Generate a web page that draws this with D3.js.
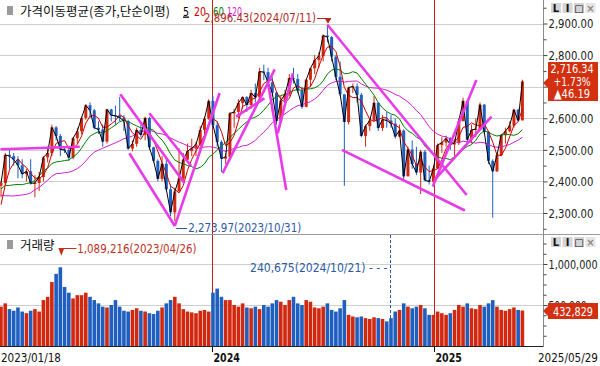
<!DOCTYPE html>
<html>
<head>
<meta charset="utf-8">
<script src="https://cdn.jsdelivr.net/npm/d3@7"></script>
<style>
  body { margin: 0; background: #fff; }
  svg { display: block; }
  .num { font-family: "DejaVu Sans Condensed", "Liberation Sans", sans-serif; }
  .kr { font-family: "Noto Sans CJK KR", "Noto Sans", sans-serif; }
</style>
</head>
<body>
<script>
// weekly summary of the daily chart, week ends on friday
var firstWeekEnd = "2023-01-20",
    lastDay = "2025-05-29";

// closes before the first week, only used to warm up the moving averages
var preCloses = [2527,2492,2481,2409,2384,2382,2290,2155,2232,2212,2213,2268,2348,2483,2444,2437,2434,2389,2360,2313,2236,2289,2386];

var closes = [
  2395,2484,2480,2469,2451,2423,2432,2394,2395,2414,2476,2490,2571,2544,2501,2500,2475,2537,2559,2601,
  2641,2625,2570,2564,2526,2628,2609,2608,2602,2591,2504,2519,2563,2547,2601,2508,2465,2408,2456,2375,
  2302,2368,2409,2469,2496,2505,2517,2563,2599,2655,2578,2525,2472,2478,2615,2620,2648,2667,2642,2680,
  2666,2748,2746,2714,2681,2591,2656,2676,2727,2724,2687,2636,2722,2758,2784,2797,2862,2857,2795,2731,
  2676,2588,2697,2701,2674,2544,2575,2593,2649,2569,2596,2593,2583,2542,2561,2416,2501,2455,2428,2494,
  2404,2399,2441,2515,2523,2536,2517,2521,2591,2655,2532,2563,2566,2643,2557,2465,2432,2483,2546,2559,
  2577,2627,2593,2716.34];

var highs = [
  2400,2490,2500,2490,2480,2470,2440,2470,2420,2430,2480,2510,2580,2575,2550,2510,2510,2540,2570,2605,
  2645,2650,2630,2590,2580,2630,2630,2640,2668,2610,2595,2530,2570,2580,2605,2605,2510,2470,2480,2470,
  2390,2380,2505,2490,2520,2535,2525,2575,2605,2660,2670,2590,2530,2490,2620,2630,2660,2670,2670,2690,
  2710,2760,2770,2760,2730,2685,2670,2690,2740,2760,2740,2700,2725,2760,2800,2810,2865,2896.43,2860,2800,
  2780,2600,2700,2710,2710,2680,2580,2600,2670,2650,2610,2620,2610,2600,2580,2565,2510,2530,2510,2500,
  2500,2450,2450,2520,2540,2545,2540,2535,2600,2665,2650,2580,2600,2650,2645,2560,2470,2490,2550,2570,
  2590,2630,2630,2722];

var lows = [
  2350,2390,2440,2450,2410,2410,2400,2390,2350,2370,2400,2460,2480,2530,2480,2490,2465,2470,2520,2550,
  2595,2600,2565,2550,2510,2520,2590,2580,2590,2560,2500,2495,2510,2540,2530,2500,2460,2400,2400,2370,
  2290,2273.97,2400,2400,2465,2480,2480,2510,2540,2595,2570,2510,2430,2455,2470,2570,2600,2630,2620,2630,
  2650,2650,2720,2700,2670,2580,2590,2640,2670,2710,2680,2630,2635,2700,2740,2760,2780,2840,2780,2720,
  2670,2386,2580,2680,2650,2540,2510,2560,2590,2560,2560,2570,2570,2535,2540,2400,2420,2440,2420,2360,
  2400,2390,2390,2440,2490,2510,2500,2480,2515,2590,2520,2520,2540,2565,2550,2455,2285,2430,2480,2520,
  2555,2570,2590,2630];

// thousand shares, average daily volume of the week
var volumes = [
  480,520,450,430,470,420,400,430,450,420,560,600,780,880,960,720,650,580,620,620,
  650,600,560,520,480,470,500,560,480,430,420,440,460,430,420,400,390,430,470,520,
  560,600,520,450,420,410,400,430,440,420,650,700,600,560,560,500,480,520,470,460,
  480,450,500,480,520,560,540,500,560,600,520,500,560,540,470,460,480,520,440,420,
  460,560,380,360,350,360,340,330,350,340,330,300,340,420,440,520,480,460,480,500,
  460,380,380,420,400,380,400,440,500,480,520,460,450,500,480,520,560,480,440,430,
  450,470,440,432.829];

var maPeriods = [5, 20, 60, 120],
    maWeeks = [1, 4, 12, 24],
    maColors = ["#000000", "#c80000", "#008000", "#d21ed2"];

var priceTicks = [2300, 2400, 2500, 2600, 2700, 2800, 2900],
    volumeTicks = [500000, 1000000],
    yearTicks = ["2024-01-02", "2025-01-02"],
    yearLabels = ["2024", "2025"];

var lastPrice = 2716.34, lastChange = 46.19, lastChangePct = 1.73, lastVolume = 432829;

var highMark = {date: "2024-07-11", value: 2896.43},
    lowMark = {date: "2023-10-31", value: 2273.97},
    volHighMark = {date: "2023-04-26", value: 1089216},
    volLowMark = {date: "2024-10-21", value: 240675};

// user drawn trend lines, [date, price] pairs
var trendLines = [
  [["2023-01-17", 2502], ["2023-05-28", 2510]],
  [["2023-08-03", 2676], ["2023-11-17", 2394]],
  [["2023-08-18", 2489], ["2023-11-01", 2259]],
  [["2023-11-01", 2259], ["2024-01-14", 2680]],
  [["2023-09-20", 2616], ["2023-11-28", 2449]],
  [["2024-01-19", 2426], ["2024-04-14", 2755]],
  [["2024-02-10", 2605], ["2024-03-28", 2663]],
  [["2024-04-03", 2711], ["2024-05-03", 2373]],
  [["2024-04-19", 2553], ["2024-05-14", 2742]],
  [["2024-07-10", 2896], ["2025-02-25", 2357]],
  [["2024-08-03", 2500], ["2025-02-22", 2308]],
  [["2024-12-31", 2384], ["2025-03-13", 2721]],
  [["2025-01-03", 2405], ["2025-04-07", 2605]]
];

var parse = d3.timeParse("%Y-%m-%d");
var fridays = d3.timeFriday.range(parse(firstWeekEnd), d3.timeDay.offset(parse(lastDay), 2));
var allCloses = preCloses.concat(closes);

var weeks = fridays.map(function(f, i) {
  return {
    date: d3.timeDay.offset(f, -2),
    open: allCloses[preCloses.length + i - 1],
    close: closes[i], high: highs[i], low: lows[i],
    volume: volumes[i] * 1000
  };
});

var width = 600, height = 366, axisX = 543;

var svg = d3.select("body").append("svg")
    .attr("width", width)
    .attr("height", height);

var x = d3.scaleTime()
    .domain([parse("2023-01-18"), parse(lastDay)])
    .range([1, 523]);

var y = d3.scaleLinear()
    .domain([2300, 2900])
    .range([213, 23.5]);

var yv = d3.scaleLinear()
    .domain([0, 1000000])
    .range([346, 264]);

// the chart font is a tall narrow one, squeeze the text to its width
function squeeze(sel, perChar) {
  sel.each(function() {
    d3.select(this)
      .attr("textLength", this.textContent.length * perChar)
      .attr("lengthAdjust", "spacingAndGlyphs");
  });
  return sel;
}

var defs = svg.append("defs");
defs.append("clipPath").attr("id", "clipPrice")
  .append("rect").attr("x", 0).attr("y", 20).attr("width", axisX).attr("height", 213);
defs.append("clipPath").attr("id", "clipVol")
  .append("rect").attr("x", 0).attr("y", 235).attr("width", axisX).attr("height", 111);

// grids
svg.append("g").selectAll("line")
  .data(priceTicks)
  .enter().append("line")
    .attr("x1", 0).attr("x2", axisX)
    .attr("y1", function(d) { return Math.round(y(d)) + 0.5; })
    .attr("y2", function(d) { return Math.round(y(d)) + 0.5; })
    .attr("stroke", "#cfcfcf");

svg.append("g").selectAll("line")
  .data(volumeTicks)
  .enter().append("line")
    .attr("x1", 0).attr("x2", axisX)
    .attr("y1", function(d) { return Math.round(yv(d)) + 0.5; })
    .attr("y2", function(d) { return Math.round(yv(d)) + 0.5; })
    .attr("stroke", "#cfcfcf");

// year separators
svg.append("g").selectAll("line")
  .data(yearTicks)
  .enter().append("line")
    .attr("x1", function(d) { return Math.round(x(parse(d))) + 0.5; })
    .attr("x2", function(d) { return Math.round(x(parse(d))) + 0.5; })
    .attr("y1", 0).attr("y2", 347)
    .attr("stroke", "#c81e1e");

// candles
var up = "#d2280f", down = "#1f5fc0";
var candles = svg.append("g").attr("clip-path", "url(#clipPrice)")
  .selectAll("g")
  .data(weeks)
  .enter().append("g")
    .attr("fill", function(d) { return d.close >= d.open ? up : down; })
    .attr("stroke", function(d) { return d.close >= d.open ? up : down; });

candles.append("line")
    .attr("x1", function(d) { return x(d.date); })
    .attr("x2", function(d) { return x(d.date); })
    .attr("y1", function(d) { return y(d.high); })
    .attr("y2", function(d) { return y(d.low); })
    .attr("stroke-width", 1);

candles.append("rect")
    .attr("x", function(d) { return x(d.date) - 1.5; })
    .attr("width", 3)
    .attr("y", function(d) { return y(Math.max(d.open, d.close)); })
    .attr("height", function(d) { return Math.max(1, Math.abs(y(d.open) - y(d.close))); })
    .attr("stroke", "none");

// moving averages
function movingAverage(n) {
  return weeks.map(function(d, i) {
    var end = preCloses.length + i + 1;
    return {date: d.date, value: d3.mean(allCloses.slice(end - n, end))};
  });
}

var line = d3.line()
    .x(function(d) { return x(d.date); })
    .y(function(d) { return y(d.value); });

var maGroup = svg.append("g").attr("clip-path", "url(#clipPrice)").attr("fill", "none");
for (var k = maWeeks.length - 1; k >= 0; k--) {
  maGroup.append("path")
      .datum(movingAverage(maWeeks[k]))
      .attr("stroke", maColors[k])
      .attr("stroke-width", 1)
      .attr("d", line);
}

// trend lines
svg.append("g").attr("clip-path", "url(#clipPrice)")
  .selectAll("path")
  .data(trendLines)
  .enter().append("path")
    .attr("fill", "none")
    .attr("stroke", "#e83ae8")
    .attr("stroke-width", 2.6)
    .attr("d", d3.line()
      .x(function(d) { return x(parse(d[0])); })
      .y(function(d) { return y(d[1]); }));

// volume bars
svg.append("g").attr("clip-path", "url(#clipVol)")
  .selectAll("rect")
  .data(weeks)
  .enter().append("rect")
    .attr("x", function(d) { return x(d.date) - 1.8; })
    .attr("width", 3.6)
    .attr("y", function(d) { return yv(d.volume); })
    .attr("height", function(d) { return yv(0) - yv(d.volume); })
    .attr("fill", function(d) { return d.close >= d.open ? up : down; });

// frame
svg.append("line").attr("x1", 0).attr("x2", width).attr("y1", 234.5).attr("y2", 234.5).attr("stroke", "#9a9a9a");
svg.append("line").attr("x1", 0).attr("x2", axisX).attr("y1", 346.5).attr("y2", 346.5).attr("stroke", "#222");
svg.append("line").attr("x1", axisX + 0.5).attr("x2", axisX + 0.5).attr("y1", 0).attr("y2", 347).attr("stroke", "#8a8a8a");

// right axes
var fmtPrice = d3.format(",.2f"), fmtInt = d3.format(",");

function rightAxis(scale, major, minor, fmt, perChar) {
  var g = svg.append("g").attr("transform", "translate(" + (axisX + 0.5) + ",0)");
  g.append("g").call(d3.axisRight(scale).tickValues(minor).tickSize(3).tickFormat(""));
  g.append("g").call(d3.axisRight(scale).tickValues(major).tickSize(4).tickPadding(1).tickFormat(fmt));
  g.selectAll(".domain").remove();
  g.selectAll("line").attr("stroke", "#444");
  squeeze(g.selectAll("text").attr("class", "num").attr("font-size", 13).attr("fill", "#222"), perChar);
  return g;
}

rightAxis(y, priceTicks, d3.range(2250, 2960, 50).filter(function(d) { return d % 100; }), fmtPrice, 5.6);
rightAxis(yv, volumeTicks, d3.range(125000, 1300000, 125000).filter(function(d) { return d % 500000; }), fmtInt, 5.45);

// last price tag
svg.append("path")
    .attr("d", "M543,83 L548,78 L548,62 L598,62 L598,101 L548,101 L548,88 Z")
    .attr("fill", "#d2300f");
var tag = svg.append("g").attr("class", "num").attr("fill", "#fff").attr("font-size", 13).attr("text-anchor", "middle");
squeeze(tag.append("text").attr("x", 572).attr("y", 73).text(fmtPrice(lastPrice)), 5.4);
squeeze(tag.append("text").attr("x", 572).attr("y", 85.5).text("+" + lastChangePct.toFixed(2) + "%"), 6.2);
squeeze(tag.append("text").attr("x", 572).attr("y", 98).text("\u25B2" + lastChange.toFixed(2)), 6);

svg.append("path")
    .attr("d", "M543,311 L548,306 L548,303 L598,303 L598,319 L548,319 L548,316 Z")
    .attr("fill", "#d2300f");
squeeze(svg.append("text").attr("class", "num").attr("x", 573).attr("y", 315.5)
    .attr("fill", "#fff").attr("font-size", 13).attr("text-anchor", "middle")
    .text(fmtInt(lastVolume)), 5.7);

// panel buttons
function buttons(top) {
  var labels = ["L", "I", "\u25A1", "\u00D7"];
  var g = svg.append("g");
  labels.forEach(function(t, i) {
    var bx = 551 + i * 11.5;
    g.append("rect").attr("x", bx).attr("y", top).attr("width", 10).attr("height", 10).attr("fill", i < 3 ? "#d4d4d4" : "#e6e6e6");
    g.append("text").attr("x", bx + 5).attr("y", top + 9).attr("text-anchor", "middle")
        .attr("font-family", "DejaVu Sans, sans-serif").attr("font-weight", "bold")
        .attr("font-size", 10).attr("fill", i < 3 ? "#111" : "#888").text(t);
  });
}
buttons(3);
buttons(237);

// titles
svg.append("rect").attr("x", 7).attr("y", 6).attr("width", 6).attr("height", 9).attr("fill", "#9a9a9a");
svg.append("text").attr("class", "kr").attr("x", 20).attr("y", 15.5).attr("font-size", 12.5).attr("fill", "#111")
    .text("가격이동평균(종가,단순이평)");
var legendX = [183, 194, 213, 227], legendW = [6, 12, 11, 15];
maPeriods.forEach(function(p, i) {
  var t = svg.append("text").attr("class", "num").attr("x", legendX[i]).attr("y", 15.5)
      .attr("font-size", 13).attr("fill", maColors[i])
      .attr("textLength", legendW[i]).attr("lengthAdjust", "spacingAndGlyphs")
      .text(p);
  if (i === 0) t.attr("text-decoration", "underline");
});

svg.append("rect").attr("x", 7).attr("y", 240).attr("width", 6).attr("height", 9).attr("fill", "#9a9a9a");
svg.append("text").attr("class", "kr").attr("x", 20).attr("y", 250).attr("font-size", 12.5).attr("fill", "#111")
    .text("거래량");

// high / low marks
var hx = x(parse(highMark.date)), hy = y(highMark.value);
squeeze(svg.append("text").attr("class", "num").attr("x", hx - 12).attr("y", 22).attr("text-anchor", "end")
    .attr("font-size", 13).attr("fill", "#b4281e")
    .text(fmtPrice(highMark.value) + "(" + highMark.date.replace(/-/g, "/") + ")"), 5.6);
svg.append("path").attr("d", "M" + (hx - 11) + ",18.5 H" + (hx + 3)).attr("stroke", "#b4281e").attr("fill", "none");
svg.append("path").attr("d", "M" + (hx - 3) + "," + (hy - 6) + " L" + (hx + 3) + "," + (hy - 6) + " L" + hx + "," + (hy - 1) + " Z")
    .attr("fill", "#b4281e");

var lx = x(parse(lowMark.date));
svg.append("path").attr("d", "M" + (lx + 2) + ",228.5 H" + (lx + 13)).attr("stroke", "#2a5aa8").attr("fill", "none");
squeeze(svg.append("text").attr("class", "num").attr("x", lx + 14).attr("y", 232)
    .attr("font-size", 13).attr("fill", "#2a5aa8")
    .text(fmtPrice(lowMark.value) + "(" + lowMark.date.replace(/-/g, "/") + ")"), 5.65);

var vx = x(parse(volHighMark.date)), vy = yv(volHighMark.value);
svg.append("path").attr("d", "M" + (vx + 1) + ",248.5 H" + (vx + 16)).attr("stroke", "#c0301e").attr("fill", "none");
svg.append("path").attr("d", "M" + (vx - 2) + ",248 L" + (vx + 4) + ",248 L" + (vx + 1) + "," + (vy - 1) + " Z")
    .attr("fill", "#c0301e");
squeeze(svg.append("text").attr("class", "num").attr("x", vx + 17).attr("y", 253)
    .attr("font-size", 13).attr("fill", "#c0301e")
    .text(fmtInt(volHighMark.value) + "(" + volHighMark.date.replace(/-/g, "/") + ")"), 5.67);

var wx = Math.round(x(parse(volLowMark.date))) + 0.5;
svg.append("path").attr("d", "M" + wx + ",235 V" + yv(volLowMark.value))
    .attr("stroke", "#2a5aa8").attr("stroke-dasharray", "3,2").attr("fill", "none");
squeeze(svg.append("text").attr("class", "num").attr("x", wx - 3).attr("y", 272).attr("text-anchor", "end")
    .attr("font-size", 13).attr("fill", "#2a5aa8")
    .text(fmtInt(volLowMark.value) + "(" + volLowMark.date.replace(/-/g, "/") + ") - - -"), 5.5);

// bottom date axis
var xAxis = svg.append("g").attr("class", "num").attr("font-size", 13).attr("fill", "#111");
squeeze(xAxis.append("text").attr("x", 1).attr("y", 362).text(d3.timeFormat("%Y/%m/%d")(x.domain()[0])), 6);
squeeze(xAxis.append("text").attr("x", 598).attr("y", 362).attr("text-anchor", "end").text(lastDay.replace(/-/g, "/")), 6);
yearTicks.forEach(function(d, i) {
  var tx = Math.round(x(parse(d))) + 0.5;
  xAxis.append("line").attr("x1", tx).attr("x2", tx).attr("y1", 347).attr("y2", 352).attr("stroke", "#111");
  squeeze(xAxis.append("text").attr("x", tx + 1).attr("y", 362).attr("font-weight", "bold").text(yearLabels[i]), 6.6);
});
</script>
</body>
</html>
